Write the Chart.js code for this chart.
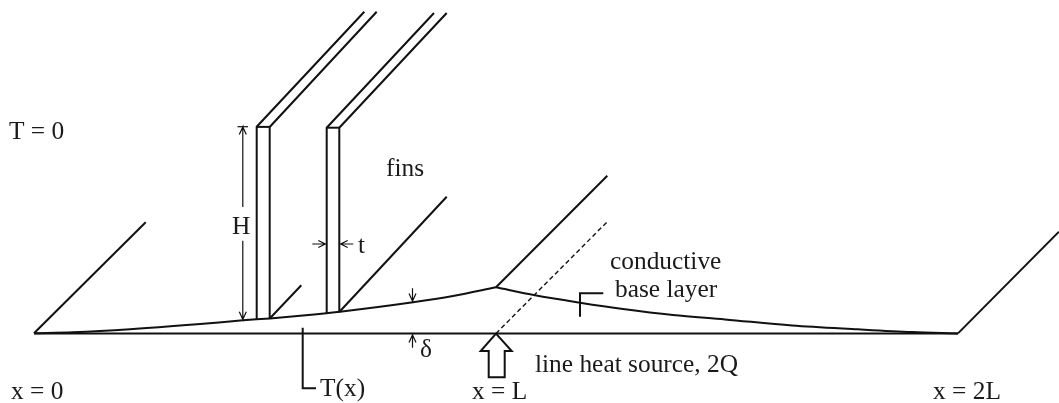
<!DOCTYPE html>
<html>
<head>
<meta charset="utf-8">
<style>html,body{margin:0;padding:0;background:#fff;overflow:hidden}canvas{display:block}</style>
<script src="https://cdn.jsdelivr.net/npm/chart.js@4/dist/chart.umd.min.js"></script>
</head>
<body>
<canvas id="c" width="1059" height="403"></canvas>
<script>
// Diagram geometry
const baseLine = [[34,333.4],[958,333.4]];
const profileLeft = [[34,333.3],[73,332.3],[130,329.3],[197,324.3],[243,320.3],[270,318.4],[303,315.5],[340,311.7],[413,302.3],[453,296],[496,287.3]];
const profileRight = [[496,287.3],[535,295.3],[580,302.7],[623,309],[673,315],[725,319.4],[792,325.5],[858,329.3],[912,332],[958,333.4]];
const depthLeft = [[34,333.2],[145.7,222.3]];
const depthFin1 = [[270,318.3],[301.3,285.3]];
const depthFin2 = [[339.5,311.7],[446.7,196.7]];
const depthPeak = [[496,287.3],[607.3,175.7]];
const depthRight = [[958,333.4],[1059,231.7]];
const sourceLine = [[496,333.4],[607.3,221.7]];
const fin1 = [[364.3,11.7],[256.7,126.7],[256.7,319.6]];
const fin1Front = [[376.7,11.7],[269.7,127],[269.7,318.3]];
const fin1Top = [[256.7,126.9],[269.7,126.9]];
const fin2 = [[434,13],[326.7,127.7],[326.7,313]];
const fin2Front = [[446.7,13],[339.3,127.7],[339.3,311.7]];
const fin2Top = [[326.7,127.7],[339.3,127.7]];
const sourceArrow = [[496,333.6],[480.7,351],[488.7,351],[488.7,377.3],[504.7,377.3],[504.7,351],[511.7,351],[496,333.6]];
const leaderTemp = [[302.7,327.7],[302.7,388.3],[316,388.3]];
const leaderLayer = [[580,316.7],[580,293.3],[603.3,293.3]];
const heightCap = [[237.5,126.7],[248,126.7]];
const heightUp = [[242.8,207],[242.8,127],[239.3,134.5],[242.8,127],[246.3,134.5]];
const heightDown = [[242.8,240.7],[242.8,319.3],[239.3,311.8],[242.8,319.3],[246.3,311.8]];
const widthLeft = [[312.3,244],[325.3,244],[318.3,240.5],[325.3,244],[318.3,247.5]];
const widthRight = [[353.3,244],[340.7,244],[347.7,240.5],[340.7,244],[347.7,247.5]];
const deltaDown = [[412.5,288.3],[412.5,301],[409,293.5],[412.5,301],[416,293.5]];
const deltaUp = [[412.5,347.7],[412.5,335],[409,342.5],[412.5,335],[416,342.5]];

const thickLines = [baseLine,depthLeft,depthFin1,depthFin2,depthPeak,depthRight,fin1,fin1Front,fin1Top,fin2,fin2Front,fin2Top,sourceArrow,leaderTemp,leaderLayer];
const curveLines = [profileLeft,profileRight];
const thinLines = [heightCap,heightUp,heightDown,widthLeft,widthRight,deltaDown,deltaUp];
const dashedLines = [sourceLine];

const labelTexts = ["T = 0","fins","H","t","δ","T(x)","x = 0","x = L","line heat source, 2Q","conductive","base layer","x = 2L"];
const labelX = [9,386,232,358,420,320,11,472,535,610,615,933];
const labelY = [139,176,234,253,357,396,399,399,372,269,297,399];

const ink = "#111111";
const toPts = l => l.map(p => ({x:p[0],y:p[1]}));
const mk = (l,w,extra) => Object.assign({data:toPts(l),showLine:true,borderColor:ink,backgroundColor:ink,borderWidth:w,pointRadius:0,fill:false,tension:0,borderJoinStyle:"miter",borderCapStyle:"butt"},extra||{});
const datasets = [
  ...thickLines.map(l=>mk(l,2)),
  ...curveLines.map(l=>mk(l,2,{cubicInterpolationMode:"monotone"})),
  ...thinLines.map(l=>mk(l,1.2)),
  ...dashedLines.map(l=>mk(l,1.4,{borderDash:[4.6,3]}))
];

const textPlugin = {
  id:"diagramText",
  afterDatasetsDraw(chart){
    const {ctx,scales:{x,y}} = chart;
    ctx.save();
    ctx.fillStyle = "#1a1a1a";
    ctx.font = '25.4px "Liberation Serif"';
    ctx.textBaseline = "alphabetic";
    ctx.textAlign = "left";
    labelTexts.forEach((t,i)=>ctx.fillText(t,x.getPixelForValue(labelX[i]),y.getPixelForValue(labelY[i])));
    ctx.restore();
  }
};
const whiteBg = {
  id:"whiteBg",
  beforeDraw(chart){const c=chart.ctx;c.save();c.fillStyle="#fff";c.fillRect(0,0,chart.width,chart.height);c.restore();}
};

new Chart(document.getElementById("c"),{
  type:"scatter",
  data:{datasets},
  plugins:[whiteBg,textPlugin],
  options:{
    responsive:false,
    animation:false,
    layout:{padding:0},
    plugins:{legend:{display:false},tooltip:{enabled:false},title:{display:false}},
    scales:{
      x:{type:"linear",min:0,max:1059,display:false},
      y:{type:"linear",min:0,max:403,reverse:true,display:false}
    }
  }
});
</script>
</body>
</html>
